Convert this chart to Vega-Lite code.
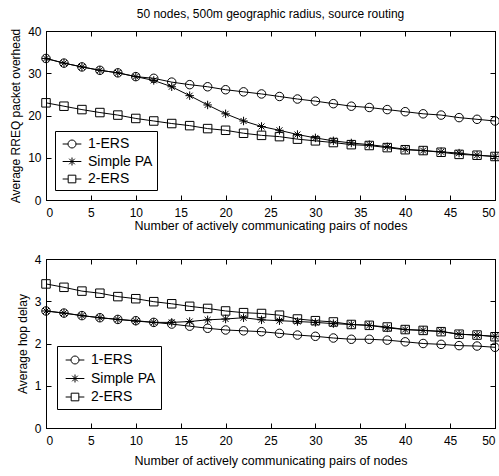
{
  "$schema": "https://vega.github.io/schema/vega-lite/v6.json",
  "padding": {"left": 9, "top": 7, "right": 5, "bottom": 5},
  "background": "white",
  "config": {
    "font": "Liberation Sans",
    "view": {"stroke": "black", "strokeWidth": 1},
    "axis": {
      "grid": false,
      "domainColor": "black",
      "tickColor": "black",
      "tickSize": -5,
      "labelColor": "black",
      "labelFontSize": 12,
      "labelFont": "Liberation Sans",
      "titleFont": "Liberation Sans",
      "titleFontSize": 12,
      "titleFontWeight": "normal",
      "titleColor": "black"
    },
    "axisX": {"labelPadding": 12, "titleFontSize": 12.5},
    "axisY": {"labelPadding": 10},
    "legend": {
      "labelFont": "Liberation Sans",
      "labelFontSize": 14,
      "labelColor": "black"
    }
  },
  "datasets": {
    "overhead": [
      {"n":0,"s":"1-ERS","v":33.5},{"n":2,"s":"1-ERS","v":32.4},{"n":4,"s":"1-ERS","v":31.5},{"n":6,"s":"1-ERS","v":30.7},{"n":8,"s":"1-ERS","v":30.1},{"n":10,"s":"1-ERS","v":29.2},{"n":12,"s":"1-ERS","v":28.8},{"n":14,"s":"1-ERS","v":27.9},{"n":16,"s":"1-ERS","v":27.3},{"n":18,"s":"1-ERS","v":26.8},{"n":20,"s":"1-ERS","v":26.1},{"n":22,"s":"1-ERS","v":25.6},{"n":24,"s":"1-ERS","v":25.1},{"n":26,"s":"1-ERS","v":24.5},{"n":28,"s":"1-ERS","v":23.9},{"n":30,"s":"1-ERS","v":23.4},{"n":32,"s":"1-ERS","v":22.8},{"n":34,"s":"1-ERS","v":22.2},{"n":36,"s":"1-ERS","v":21.9},{"n":38,"s":"1-ERS","v":21.4},{"n":40,"s":"1-ERS","v":20.9},{"n":42,"s":"1-ERS","v":20.4},{"n":44,"s":"1-ERS","v":20.1},{"n":46,"s":"1-ERS","v":19.5},{"n":48,"s":"1-ERS","v":19.1},{"n":50,"s":"1-ERS","v":18.7},
      {"n":0,"s":"Simple PA","v":33.5},{"n":2,"s":"Simple PA","v":32.4},{"n":4,"s":"Simple PA","v":31.5},{"n":6,"s":"Simple PA","v":30.7},{"n":8,"s":"Simple PA","v":30.1},{"n":10,"s":"Simple PA","v":29.2},{"n":12,"s":"Simple PA","v":28.3},{"n":14,"s":"Simple PA","v":26.8},{"n":16,"s":"Simple PA","v":24.7},{"n":18,"s":"Simple PA","v":22.5},{"n":20,"s":"Simple PA","v":20.4},{"n":22,"s":"Simple PA","v":18.7},{"n":24,"s":"Simple PA","v":17.4},{"n":26,"s":"Simple PA","v":16.5},{"n":28,"s":"Simple PA","v":15.5},{"n":30,"s":"Simple PA","v":14.7},{"n":32,"s":"Simple PA","v":14.0},{"n":34,"s":"Simple PA","v":13.5},{"n":36,"s":"Simple PA","v":13.1},{"n":38,"s":"Simple PA","v":12.6},{"n":40,"s":"Simple PA","v":12.0},{"n":42,"s":"Simple PA","v":11.7},{"n":44,"s":"Simple PA","v":11.4},{"n":46,"s":"Simple PA","v":11.1},{"n":48,"s":"Simple PA","v":10.6},{"n":50,"s":"Simple PA","v":10.3},
      {"n":0,"s":"2-ERS","v":23.0},{"n":2,"s":"2-ERS","v":22.2},{"n":4,"s":"2-ERS","v":21.4},{"n":6,"s":"2-ERS","v":20.7},{"n":8,"s":"2-ERS","v":20.1},{"n":10,"s":"2-ERS","v":19.3},{"n":12,"s":"2-ERS","v":18.7},{"n":14,"s":"2-ERS","v":18.1},{"n":16,"s":"2-ERS","v":17.6},{"n":18,"s":"2-ERS","v":16.9},{"n":20,"s":"2-ERS","v":16.5},{"n":22,"s":"2-ERS","v":15.8},{"n":24,"s":"2-ERS","v":15.3},{"n":26,"s":"2-ERS","v":15.0},{"n":28,"s":"2-ERS","v":14.4},{"n":30,"s":"2-ERS","v":14.0},{"n":32,"s":"2-ERS","v":13.6},{"n":34,"s":"2-ERS","v":13.1},{"n":36,"s":"2-ERS","v":12.9},{"n":38,"s":"2-ERS","v":12.4},{"n":40,"s":"2-ERS","v":11.9},{"n":42,"s":"2-ERS","v":11.7},{"n":44,"s":"2-ERS","v":11.3},{"n":46,"s":"2-ERS","v":10.8},{"n":48,"s":"2-ERS","v":10.6},{"n":50,"s":"2-ERS","v":10.3}
    ],
    "delay": [
      {"n":0,"s":"1-ERS","v":2.77},{"n":2,"s":"1-ERS","v":2.72},{"n":4,"s":"1-ERS","v":2.66},{"n":6,"s":"1-ERS","v":2.61},{"n":8,"s":"1-ERS","v":2.57},{"n":10,"s":"1-ERS","v":2.54},{"n":12,"s":"1-ERS","v":2.50},{"n":14,"s":"1-ERS","v":2.46},{"n":16,"s":"1-ERS","v":2.41},{"n":18,"s":"1-ERS","v":2.36},{"n":20,"s":"1-ERS","v":2.32},{"n":22,"s":"1-ERS","v":2.30},{"n":24,"s":"1-ERS","v":2.28},{"n":26,"s":"1-ERS","v":2.24},{"n":28,"s":"1-ERS","v":2.20},{"n":30,"s":"1-ERS","v":2.17},{"n":32,"s":"1-ERS","v":2.13},{"n":34,"s":"1-ERS","v":2.10},{"n":36,"s":"1-ERS","v":2.10},{"n":38,"s":"1-ERS","v":2.08},{"n":40,"s":"1-ERS","v":2.04},{"n":42,"s":"1-ERS","v":2.00},{"n":44,"s":"1-ERS","v":1.98},{"n":46,"s":"1-ERS","v":1.95},{"n":48,"s":"1-ERS","v":1.94},{"n":50,"s":"1-ERS","v":1.91},
      {"n":0,"s":"Simple PA","v":2.77},{"n":2,"s":"Simple PA","v":2.72},{"n":4,"s":"Simple PA","v":2.66},{"n":6,"s":"Simple PA","v":2.61},{"n":8,"s":"Simple PA","v":2.57},{"n":10,"s":"Simple PA","v":2.53},{"n":12,"s":"Simple PA","v":2.50},{"n":14,"s":"Simple PA","v":2.50},{"n":16,"s":"Simple PA","v":2.52},{"n":18,"s":"Simple PA","v":2.56},{"n":20,"s":"Simple PA","v":2.58},{"n":22,"s":"Simple PA","v":2.61},{"n":24,"s":"Simple PA","v":2.56},{"n":26,"s":"Simple PA","v":2.54},{"n":28,"s":"Simple PA","v":2.52},{"n":30,"s":"Simple PA","v":2.50},{"n":32,"s":"Simple PA","v":2.47},{"n":34,"s":"Simple PA","v":2.45},{"n":36,"s":"Simple PA","v":2.43},{"n":38,"s":"Simple PA","v":2.37},{"n":40,"s":"Simple PA","v":2.33},{"n":42,"s":"Simple PA","v":2.31},{"n":44,"s":"Simple PA","v":2.29},{"n":46,"s":"Simple PA","v":2.22},{"n":48,"s":"Simple PA","v":2.20},{"n":50,"s":"Simple PA","v":2.17},
      {"n":0,"s":"2-ERS","v":3.41},{"n":2,"s":"2-ERS","v":3.33},{"n":4,"s":"2-ERS","v":3.24},{"n":6,"s":"2-ERS","v":3.19},{"n":8,"s":"2-ERS","v":3.11},{"n":10,"s":"2-ERS","v":3.06},{"n":12,"s":"2-ERS","v":2.99},{"n":14,"s":"2-ERS","v":2.94},{"n":16,"s":"2-ERS","v":2.88},{"n":18,"s":"2-ERS","v":2.83},{"n":20,"s":"2-ERS","v":2.77},{"n":22,"s":"2-ERS","v":2.73},{"n":24,"s":"2-ERS","v":2.71},{"n":26,"s":"2-ERS","v":2.67},{"n":28,"s":"2-ERS","v":2.58},{"n":30,"s":"2-ERS","v":2.54},{"n":32,"s":"2-ERS","v":2.51},{"n":34,"s":"2-ERS","v":2.45},{"n":36,"s":"2-ERS","v":2.43},{"n":38,"s":"2-ERS","v":2.39},{"n":40,"s":"2-ERS","v":2.33},{"n":42,"s":"2-ERS","v":2.31},{"n":44,"s":"2-ERS","v":2.28},{"n":46,"s":"2-ERS","v":2.22},{"n":48,"s":"2-ERS","v":2.20},{"n":50,"s":"2-ERS","v":2.16}
    ]
  },
  "vconcat": [
    {
      "width": 449,
      "height": 169,
      "title": {"text": "50 nodes, 500m geographic radius, source routing", "fontSize": 12, "fontWeight": "normal", "font": "Liberation Sans", "color": "black", "anchor": "middle", "offset": 4},
      "data": {"name": "overhead"},
      "layer": [
        {
          "mark": {"type": "line", "color": "black", "strokeWidth": 1},
          "encoding": {
            "x": {"field": "n", "type": "quantitative", "scale": {"domain": [0, 50], "nice": false}, "axis": {"values": [0,5,10,15,20,25,30,35,40,45,50], "title": "Number of actively communicating pairs of nodes", "titlePadding": 1}},
            "y": {"field": "v", "type": "quantitative", "scale": {"domain": [0, 40], "nice": false}, "axis": {"values": [0,10,20,30,40], "title": "Average RREQ packet overhead", "titlePadding": 5}},
            "detail": {"field": "s"}
          }
        },
        {
          "mark": {"type": "point", "filled": false, "color": "black", "size": 72, "strokeWidth": 1, "opacity": 1},
          "encoding": {
            "x": {"field": "n", "type": "quantitative", "axis": {"orient": "top", "values": [0,5,10,15,20,25,30,35,40,45,50], "labels": false, "title": null}},
            "y": {"field": "v", "type": "quantitative", "axis": {"orient": "right", "values": [0,10,20,30,40], "labels": false, "title": null}},
            "shape": {
              "field": "s", "type": "nominal",
              "scale": {"domain": ["1-ERS", "Simple PA", "2-ERS"], "range": ["circle", "M-1,0L1,0M0,-1L0,1M-0.7,-0.7L0.7,0.7M-0.7,0.7L0.7,-0.7", "square"]},
              "legend": null
            }
          }
        },
        {
          "mark": {"type": "point", "filled": false, "color": "black", "size": 0, "strokeWidth": 0, "opacity": 0},
          "encoding": {
            "x": {"field": "n", "type": "quantitative", "axis": null},
            "y": {"field": "v", "type": "quantitative", "axis": null},
            "shape": {
              "field": "s", "type": "nominal",
              "scale": {"domain": ["1-ERS", "Simple PA", "2-ERS"], "range": ["M-1.1,0L-0.47,0M0.47,0L1.1,0M-0.47,0A0.47,0.47,0,1,1,0.47,0A0.47,0.47,0,1,1,-0.47,0", "M-1.1,0L1.1,0M0,-0.47L0,0.47M-0.33,-0.33L0.33,0.33M-0.33,0.33L0.33,-0.33", "M-1.1,0L-0.45,0M0.45,0L1.1,0M-0.45,-0.45L0.45,-0.45L0.45,0.45L-0.45,0.45Z"]},
              "legend": {
                "title": null, "orient": "none", "legendX": 9, "legendY": 100,
                "strokeColor": "black", "fillColor": "white", "padding": 4,
                "symbolSize": 289, "symbolOffset": 4, "labelOffset": 7, "rowPadding": 1.5,
                "symbolOpacity": 1,
                "symbolStrokeColor": "black", "symbolFillColor": "transparent", "symbolStrokeWidth": 1
              }
            }
          }
        }
      ],
      "resolve": {"axis": {"x": "independent", "y": "independent"}, "scale": {"shape": "independent"}, "legend": {"shape": "independent"}}
    },
    {
      "width": 449,
      "height": 169,
      "data": {"name": "delay"},
      "layer": [
        {
          "mark": {"type": "line", "color": "black", "strokeWidth": 1},
          "encoding": {
            "x": {"field": "n", "type": "quantitative", "scale": {"domain": [0, 50], "nice": false}, "axis": {"values": [0,5,10,15,20,25,30,35,40,45,50], "title": "Number of actively communicating pairs of nodes", "titlePadding": 8}},
            "y": {"field": "v", "type": "quantitative", "scale": {"domain": [0, 4], "nice": false}, "axis": {"values": [0,1,2,3,4], "title": "Average hop delay", "titlePadding": 5}},
            "detail": {"field": "s"}
          }
        },
        {
          "mark": {"type": "point", "filled": false, "color": "black", "size": 72, "strokeWidth": 1, "opacity": 1},
          "encoding": {
            "x": {"field": "n", "type": "quantitative", "axis": {"orient": "top", "values": [0,5,10,15,20,25,30,35,40,45,50], "labels": false, "title": null}},
            "y": {"field": "v", "type": "quantitative", "axis": {"orient": "right", "values": [0,1,2,3,4], "labels": false, "title": null}},
            "shape": {
              "field": "s", "type": "nominal",
              "scale": {"domain": ["1-ERS", "Simple PA", "2-ERS"], "range": ["circle", "M-1,0L1,0M0,-1L0,1M-0.7,-0.7L0.7,0.7M-0.7,0.7L0.7,-0.7", "square"]},
              "legend": null
            }
          }
        },
        {
          "mark": {"type": "point", "filled": false, "color": "black", "size": 0, "strokeWidth": 0, "opacity": 0},
          "encoding": {
            "x": {"field": "n", "type": "quantitative", "axis": null},
            "y": {"field": "v", "type": "quantitative", "axis": null},
            "shape": {
              "field": "s", "type": "nominal",
              "scale": {"domain": ["1-ERS", "Simple PA", "2-ERS"], "range": ["M-1.1,0L-0.47,0M0.47,0L1.1,0M-0.47,0A0.47,0.47,0,1,1,0.47,0A0.47,0.47,0,1,1,-0.47,0", "M-1.1,0L1.1,0M0,-0.47L0,0.47M-0.33,-0.33L0.33,0.33M-0.33,0.33L0.33,-0.33", "M-1.1,0L-0.45,0M0.45,0L1.1,0M-0.45,-0.45L0.45,-0.45L0.45,0.45L-0.45,0.45Z"]},
              "legend": {
                "title": null, "orient": "none", "legendX": 11, "legendY": 87,
                "strokeColor": "black", "fillColor": "white", "padding": 5,
                "symbolSize": 289, "symbolOffset": 4, "labelOffset": 7, "rowPadding": 2.5,
                "symbolOpacity": 1,
                "symbolStrokeColor": "black", "symbolFillColor": "transparent", "symbolStrokeWidth": 1
              }
            }
          }
        }
      ],
      "resolve": {"axis": {"x": "independent", "y": "independent"}, "scale": {"shape": "independent"}, "legend": {"shape": "independent"}}
    }
  ],
  "spacing": 20,
  "resolve": {"scale": {"shape": "independent"}, "legend": {"shape": "independent"}}
}
